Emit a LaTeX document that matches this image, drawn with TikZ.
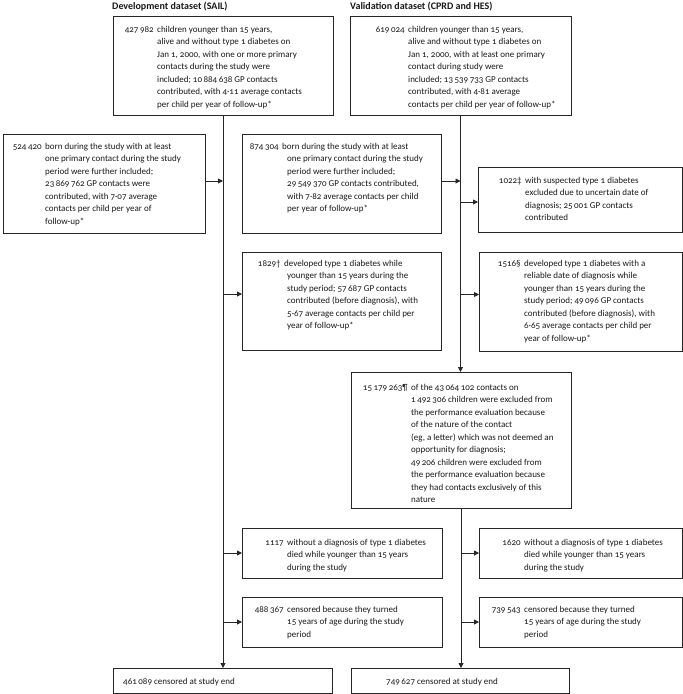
\documentclass[tikz,border=0pt]{standalone}
\usepackage{fontspec}
\setmainfont{Carlito}[Numbers=OldStyle]
\usetikzlibrary{arrows.meta}
\newcommand\etext[3]{\begin{tabular}[t]{@{}l@{}}\hspace*{-#2pt}\llap{#1\hspace{3.5pt}}#3\end{tabular}}
\begin{document}
\begin{tikzpicture}[x=1pt,y=-1pt,
  box/.style={draw=black!85, line width=0.9pt, inner sep=0pt, outer sep=0pt, anchor=north west},
  txt/.style={anchor=base west, inner sep=0pt, text=black!90, font=\fontsize{9}{12.5}\selectfont},
  ttl/.style={anchor=base west, inner sep=0pt, text=black!90, font=\bfseries\fontsize{10}{12.5}\selectfont},
  arr/.style={draw=black!85, line width=0.9pt, -{Triangle[length=5pt,width=5pt]}}]
\useasboundingbox (0,0) rectangle (683,694);
% titles
\node[ttl] (ttlsail) at (112,9.5) {Development dataset (SAIL)};
\node[ttl] (ttlcprd) at (350,9.5) {Validation dataset (CPRD and HES)};
% boxes
\node[box, minimum width=220pt, minimum height=99pt] (sailtop) at (113,16) {};
\node[box, minimum width=221pt, minimum height=99pt] (cprdtop) at (350,16) {};
\node[box, minimum width=202pt, minimum height=99pt] (born524) at (3,134) {};
\node[box, minimum width=199pt, minimum height=99pt] (born874) at (242,134) {};
\node[box, minimum width=204pt, minimum height=65pt] (excl1022) at (478,167) {};
\node[box, minimum width=199pt, minimum height=98pt] (dev1829) at (242,252) {};
\node[box, minimum width=203pt, minimum height=99pt] (dev1516) at (479,252) {};
\node[box, minimum width=220pt, minimum height=136pt] (excl15179) at (351,372) {};
\node[box, minimum width=200pt, minimum height=50pt] (died1117) at (242,528) {};
\node[box, minimum width=203pt, minimum height=50pt] (died1620) at (479,528) {};
\node[box, minimum width=200pt, minimum height=50pt] (cens488) at (242,597) {};
\node[box, minimum width=203pt, minimum height=50pt] (cens739) at (479,597) {};
\node[box, minimum width=219pt, minimum height=25pt] (end461) at (113,668) {};
\node[box, minimum width=218pt, minimum height=25pt] (end749) at (351,668) {};
% texts
\node[txt] (t1) at (157,32) {\etext{427\,982}{0}{children younger than 15 years,\\alive and without type 1 diabetes on\\Jan 1, 2000, with one or more primary\\contacts during the study were\\included; 10\,884\,638 GP contacts\\contributed, with 4·11 average contacts\\per child per year of follow-up*}};
\node[txt] (t2) at (408,32) {\etext{619\,024}{0}{children younger than 15 years,\\alive and without type 1 diabetes on\\Jan 1, 2000, with at least one primary\\contact during study were\\included; 13\,539\,733 GP contacts\\contributed, with 4·81 average\\contacts per child per year of follow-up*}};
\node[txt] (t3) at (45,149) {\etext{524\,420}{0}{born during the study with at least\\one primary contact during the study\\period were further included;\\23\,869\,762 GP contacts were\\contributed, with 7·07 average\\contacts per child per year of\\follow-up*}};
\node[txt] (t4) at (287,149) {\etext{874\,304}{5}{born during the study with at least\\one primary contact during the study\\period were further included;\\29\,549\,370 GP contacts contributed,\\with 7·82 average contacts per child\\per year of follow-up*}};
\node[txt] (t5) at (525,183) {\etext{1022‡}{0}{with suspected type 1 diabetes\\excluded due to uncertain date of\\diagnosis; 25\,001 GP contacts\\contributed}};
\node[txt] (t6) at (287,266) {\etext{1829†}{3}{developed type 1 diabetes while\\younger than 15 years during the\\study period; 57\,687 GP contacts\\contributed (before diagnosis), with\\5·67 average contacts per child per\\year of follow-up*}};
\node[txt] (t7) at (524,266) {\etext{1516§}{0}{developed type 1 diabetes with a\\reliable date of diagnosis while\\younger than 15 years during the\\study period; 49\,096 GP contacts\\contributed (before diagnosis), with\\6·65 average contacts per child per\\year of follow-up*}};
\node[txt] (t8) at (411,390) {\etext{15\,179\,263¶}{0}{of the 43\,064\,102 contacts on\\1\,492\,306 children were excluded from\\the performance evaluation because\\of the nature of the contact\\(eg, a letter) which was not deemed an\\opportunity for diagnosis;\\49\,206 children were excluded from\\the performance evaluation because\\they had contacts exclusively of this\\nature}};
\node[txt] (t9) at (287,545) {\etext{1117}{0}{without a diagnosis of type 1 diabetes\\died while younger than 15 years\\during the study}};
\node[txt] (t10) at (524,545) {\etext{1620}{0}{without a diagnosis of type 1 diabetes\\died while younger than 15 years\\during the study}};
\node[txt] (t11) at (287,612) {\etext{488\,367}{0}{censored because they turned\\15 years of age during the study\\period}};
\node[txt] (t12) at (524,612) {\etext{739\,543}{0}{censored because they turned\\15 years of age during the study\\period}};
\node[txt] (t13) at (123,684) {461\,089 censored at study end};
\node[txt] (t14) at (386,684) {749\,627 censored at study end};
% connectors
\draw[arr] (sailtop.south) -- (sailtop.south |- end461.north);
\draw[arr] (cprdtop.south) -- (cprdtop.south |- excl15179.north);
\draw[arr] (excl15179.south) -- (excl15179.south |- end749.north);
\draw[arr] ([yshift=2.5pt]born524.east) -- ([yshift=2.5pt]born524.east -| sailtop.south);
\draw[arr] ([yshift=2.5pt]born874.east) -- ([yshift=2.5pt]born874.east -| cprdtop.south);
\draw[arr] ([yshift=-2.5pt]excl1022.west -| cprdtop.south) -- ([yshift=-2.5pt]excl1022.west);
\draw[arr] ([yshift=7pt]dev1829.west -| sailtop.south) -- ([yshift=7pt]dev1829.west);
\draw[arr] ([yshift=7pt]dev1516.west -| cprdtop.south) -- ([yshift=7pt]dev1516.west);
\draw[arr] (died1117.west -| sailtop.south) -- (died1117.west);
\draw[arr] (cens488.west -| sailtop.south) -- (cens488.west);
\draw[arr] (died1620.west -| excl15179.south) -- (died1620.west);
\draw[arr] (cens739.west -| excl15179.south) -- (cens739.west);
\end{tikzpicture}
\end{document}
